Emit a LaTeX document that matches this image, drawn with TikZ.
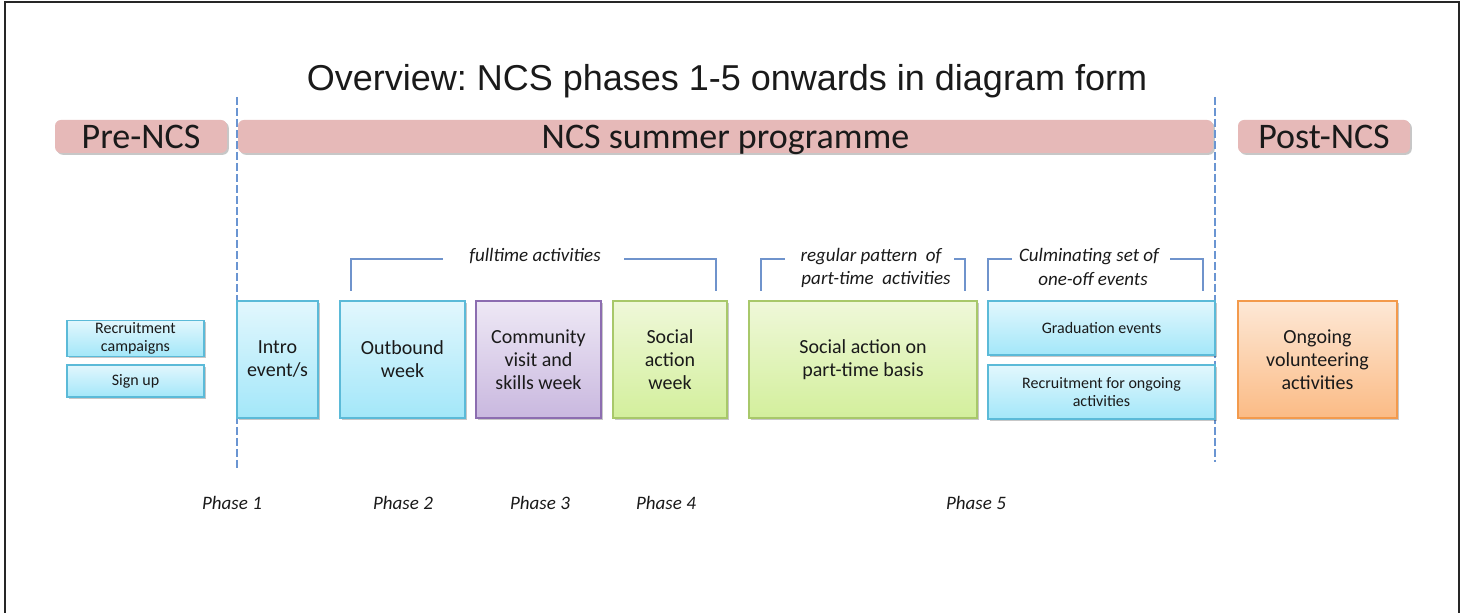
\documentclass[tikz,border=0pt]{standalone}
\usepackage{fontspec}
\setmainfont{Carlito}
\newfontfamily\ttlfont{Liberation Sans}
\usetikzlibrary{shadows}
\definecolor{txt}{HTML}{1A1A1A}
\definecolor{barpink}{HTML}{E6B9B8}
\definecolor{cyT}{HTML}{E2F7FD}
\definecolor{cyB}{HTML}{A3E7F9}
\definecolor{cyD}{HTML}{5BBAD8}
\definecolor{puT}{HTML}{EEE8F5}
\definecolor{puB}{HTML}{C9B8DF}
\definecolor{puD}{HTML}{8C6DB0}
\definecolor{grT}{HTML}{EFF8D9}
\definecolor{grB}{HTML}{D3EF9C}
\definecolor{grD}{HTML}{A8C86A}
\definecolor{orT}{HTML}{FDE8D6}
\definecolor{orB}{HTML}{FBBB85}
\definecolor{orD}{HTML}{F39A4C}
\definecolor{brk}{HTML}{6F93CC}
\definecolor{dashc}{HTML}{6A95D2}
\newcommand\bxfont{\fontsize{10}{11.5}\selectfont}
\newcommand\smfont{\fontsize{8}{9}\selectfont}
\newcommand\brfont{\fontsize{18}{20}\selectfont}
\newcommand\itfont{\fontsize{9.5}{11}\selectfont\itshape}
\tikzset{
  shad/.style={drop shadow={shadow xshift=0.9pt, shadow yshift=-0.9pt, fill=black, opacity=0.22}},
  box/.style={rectangle, line width=0.8pt, inner sep=1pt, align=center, text=txt, shad},
  cybox/.style={box, draw=cyD, top color=cyT, bottom color=cyB},
  pubox/.style={box, draw=puD, top color=puT, bottom color=puB},
  grbox/.style={box, draw=grD, top color=grT, bottom color=grB},
  orbox/.style={box, draw=orD, top color=orT, bottom color=orB},
  bar/.style={rectangle, rounded corners=3pt, fill=barpink, draw=none, font=\brfont, text=txt, inner sep=0pt, text height=12pt, text depth=0.4pt, shad},
  brkline/.style={draw=brk, line width=1pt},
  dashline/.style={draw=dashc, line width=1pt, dash pattern=on 4pt off 1.5pt},
  lab/.style={font=\itfont, text=txt, inner sep=0pt, align=center},
}
\begin{document}
\begin{tikzpicture}[x=0.5pt, y=-0.5pt]
\useasboundingbox (0,0) rectangle (1467,613);
\fill[white] (0,0) rectangle (1467,613);
% frame
\draw[line width=1.2pt, black!85] (5,613) -- (5,2) -- (1459,2) -- (1459,613);

% title
\node[font=\ttlfont\fontsize{18}{20}\selectfont, text=txt, inner sep=0pt] (title) at (727,81) {Overview:\ NCS phases 1-5 onwards in diagram form};

% bars
\node[bar, minimum width=86pt, minimum height=16.5pt] (pre) at (141,136.5) {Pre-NCS};
\node[bar, minimum width=487.5pt, minimum height=16.5pt] (ncs) at (725.5,136.5) {NCS summer programme};
\node[bar, minimum width=86pt, minimum height=16.5pt] (post) at (1324,136.5) {Post-NCS};

% dashed phase separators
\coordinate (d1a) at (237,97); \coordinate (d1b) at (237,470);
\coordinate (d2a) at (1215,97); \coordinate (d2b) at (1215,462);
\draw[dashline] (d1a) -- (d1b);
\draw[dashline] (d2a) -- (d2b);

% boxes
\node[cybox, font=\smfont, minimum width=68.5pt, minimum height=16.5pt] (recr) at (135.5,338.5) {Recruitment\\campaigns};
\node[cybox, font=\smfont, minimum width=68.5pt, minimum height=16pt] (sign) at (135.5,381) {Sign up};
\node[cybox, font=\bxfont, minimum width=40.5pt, minimum height=58.5pt] (intro) at (277.5,359.5) {Intro\\event/s};
\node[cybox, font=\bxfont, minimum width=62.5pt, minimum height=58.5pt] (outb) at (402.5,359.5) {Outbound\\week};
\node[pubox, font=\bxfont, minimum width=62.5pt, minimum height=58.5pt] (comm) at (538.5,359.5) {Community\\visit and\\skills week};
\node[grbox, font=\bxfont, minimum width=57pt, minimum height=58.5pt] (soc) at (670,359.5) {Social\\action\\week};
\node[grbox, font=\bxfont, minimum width=114pt, minimum height=58.5pt] (part) at (863,359.5) {Social action on\\part-time basis};
\node[cybox, font=\smfont, minimum width=113.5pt, minimum height=27pt] (grad) at (1101.5,328) {Graduation events};
\node[cybox, font=\smfont, minimum width=113.5pt, minimum height=27pt] (recr2) at (1101.5,392) {Recruitment for ongoing\\activities};
\node[orbox, font=\bxfont, minimum width=79.5pt, minimum height=58.5pt] (ongo) at (1317.5,359.5) {Ongoing\\volunteering\\activities};

% bracket 1: fulltime activities
\node[lab] (ft) at (535,256) {fulltime activities};
\coordinate (b1a) at (351,291); \coordinate (b1b) at (351,259); \coordinate (b1c) at (443,259);
\coordinate (b1d) at (624,259); \coordinate (b1e) at (716,259); \coordinate (b1f) at (716,291);
\draw[brkline] (b1a) -- (b1b) -- (b1c);
\draw[brkline] (b1d) -- (b1e) -- (b1f);

% bracket 2: regular pattern
\node[lab] (rp1) at (871,257) {regular pattern\ \ of};
\node[lab] (rp2) at (876,279) {part-time\ \ activities};
\coordinate (b2a) at (761,291); \coordinate (b2b) at (761,259); \coordinate (b2c) at (785,259);
\coordinate (b2d) at (954,259); \coordinate (b2e) at (965,259); \coordinate (b2f) at (965,291);
\draw[brkline] (b2a) -- (b2b) -- (b2c);
\draw[brkline] (b2d) -- (b2e) -- (b2f);

% bracket 3: culminating set
\node[lab] (cu1) at (1089,257) {Culminating set of};
\node[lab] (cu2) at (1093,279) {one-off events};
\coordinate (b3a) at (988,291); \coordinate (b3b) at (988,259); \coordinate (b3c) at (1012,259);
\coordinate (b3d) at (1170,259); \coordinate (b3e) at (1203,259); \coordinate (b3f) at (1203,291);
\draw[brkline] (b3a) -- (b3b) -- (b3c);
\draw[brkline] (b3d) -- (b3e) -- (b3f);

% phase labels
\node[lab] (p1) at (232,503) {Phase 1};
\node[lab] (p2) at (403,503) {Phase 2};
\node[lab] (p3) at (540,503) {Phase 3};
\node[lab] (p4) at (666,503) {Phase 4};
\node[lab] (p5) at (976,503) {Phase 5};
\end{tikzpicture}
\end{document}
